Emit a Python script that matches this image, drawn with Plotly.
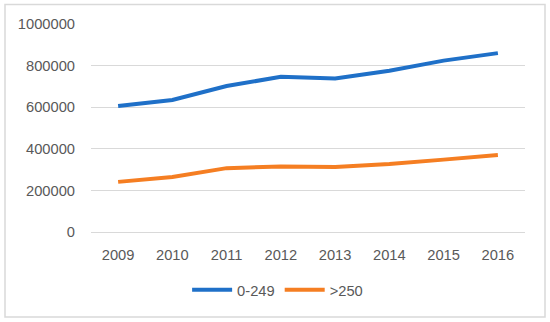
import plotly.graph_objects as go

years = ["2009", "2010", "2011", "2012", "2013", "2014", "2015", "2016"]
small = [606000, 635000, 702000, 746000, 738000, 775000, 824000, 860000]
large = [241000, 264000, 307000, 315000, 312000, 327000, 348000, 370000]
y_ticks = [0, 200000, 400000, 600000, 800000, 1000000]

fig = go.Figure()
fig.add_trace(go.Scatter(x=years, y=small, mode="lines", name="0-249",
                         line=dict(color="#1F70C8", width=4)))
fig.add_trace(go.Scatter(x=years, y=large, mode="lines", name=">250",
                         line=dict(color="#F57E22", width=4)))

font = dict(family="Liberation Sans, Arial, sans-serif", size=14.7, color="#595959")
fig.update_layout(
    width=550, height=322,
    margin=dict(l=91, r=25, t=24, b=90, autoexpand=False),
    paper_bgcolor="white", plot_bgcolor="white",
    font=font,
    showlegend=True,
    legend=dict(orientation="h", x=0.43, xanchor="center", y=-0.28, yanchor="middle",
                font=font, itemwidth=40),
    xaxis=dict(type="category", range=[-0.5, 7.5], showgrid=False, showline=False,
               ticks="", ticklabelstandoff=12),
    yaxis=dict(range=[0, 1000000], tickvals=y_ticks, ticktext=[str(v) for v in y_ticks],
               showgrid=True, gridcolor="#D9D9D9", gridwidth=1, zeroline=True,
               zerolinecolor="#D9D9D9", zerolinewidth=1, showline=False, ticks="",
               ticklabelstandoff=15),
    shapes=[dict(type="rect", xref="paper", yref="paper",
                 x0=(5 - 91) / 434, x1=(545 - 91) / 434,
                 y0=(232 - 317) / 208, y1=(232 - 4.5) / 208,
                 line=dict(color="#D9D9D9", width=1.5), fillcolor="rgba(0,0,0,0)",
                 layer="below")],
)
fig.write_html("out.html", config={"displayModeBar": False},
               post_script="document.body.style.margin='0';")
